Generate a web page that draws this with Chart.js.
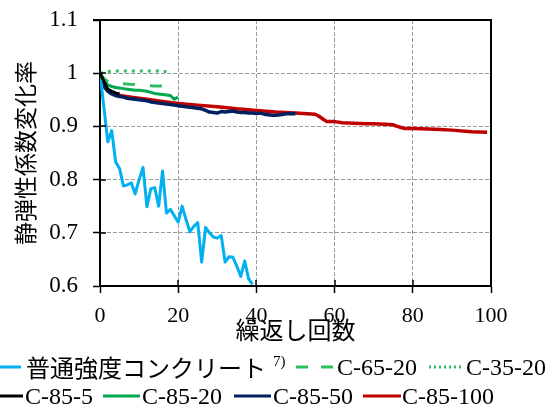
<!DOCTYPE html>
<html>
<head>
<meta charset="utf-8">
<script src="https://cdn.jsdelivr.net/npm/chart.js@4/dist/chart.umd.min.js"></script>
<style>
html, body { margin: 0; padding: 0; background: #fff; }
#wrap { width: 549px; height: 405px; }
canvas { display: block; }
</style>
</head>
<body>
<div id="wrap"><canvas id="chart" width="549" height="405"></canvas></div>
<script>
// series labels, in legend order
var seriesNames = ['普通強度コンクリート', 'C-65-20', 'C-35-20', 'C-85-5', 'C-85-20', 'C-85-50', 'C-85-100'];
var xTitle = '繰返し回数';
var yTitle = '静弾性係数変化率';

// axis ticks
var xTicks = [0, 20, 40, 60, 80, 100];
var yTicks = [0.6, 0.7, 0.8, 0.9, 1.0, 1.1];

// 普通強度コンクリート 7)
var normalCycles = [0, 2, 3, 4, 5, 6, 7, 8, 9, 10, 11, 12, 13, 14, 15, 16, 17, 18, 19, 20,
    21, 22, 23, 24, 25, 26, 27, 28, 29, 30, 31, 32, 33, 34, 35, 36, 37, 38, 39];
var normalRatio = [1.0, 0.871, 0.892, 0.833, 0.821, 0.788, 0.790, 0.794, 0.773, 0.800, 0.823, 0.749, 0.783, 0.785, 0.750, 0.816, 0.737, 0.744, 0.732, 0.720,
    0.750, 0.725, 0.702, 0.712, 0.719, 0.645, 0.710, 0.700, 0.692, 0.690, 0.695, 0.645, 0.655, 0.654, 0.637, 0.618, 0.647, 0.614, 0.603];

// C-65-20
var c6520Cycles = [0, 1, 2, 3, 4, 6, 8, 10, 12, 14, 16, 18];
var c6520Ratio = [1.0, 0.990, 0.984, 0.982, 0.981, 0.980, 0.979, 0.978, 0.977, 0.976, 0.976, 0.975];

// C-35-20
var c3520Cycles = [0, 1, 2, 3, 6, 9, 12, 15, 17];
var c3520Ratio = [1.0, 1.002, 1.003, 1.004, 1.004, 1.004, 1.004, 1.004, 1.003];

// C-85-5
var c855Cycles = [0, 1, 2, 3, 4, 5];
var c855Ratio = [1.0, 0.985, 0.970, 0.966, 0.963, 0.961];

// C-85-20
var c8520Cycles = [0, 1, 2, 3, 4, 5, 6, 7, 8, 9, 10, 11, 12, 13, 14, 15, 16, 17, 18, 19, 20];
var c8520Ratio = [1.0, 0.985, 0.978, 0.975, 0.973, 0.972, 0.971, 0.970, 0.969, 0.968, 0.968, 0.967, 0.966, 0.964, 0.962, 0.961, 0.960, 0.959, 0.958, 0.951, 0.955];

// C-85-50
var c8550Cycles = [0, 1, 2, 3, 4, 5, 6, 7, 8, 9, 10, 11, 12, 13, 14, 15, 16, 17, 18, 19, 20,
    21, 22, 23, 24, 25, 26, 27, 28, 29, 30, 31, 32, 33, 34, 35, 36, 37, 38, 39, 40,
    41, 42, 43, 44, 45, 46, 47, 48, 49, 50];
var c8550Ratio = [1.0, 0.975, 0.966, 0.961, 0.958, 0.956, 0.955, 0.953, 0.952, 0.951, 0.950, 0.949, 0.948, 0.946, 0.945, 0.944, 0.943, 0.942, 0.941, 0.940, 0.939,
    0.938, 0.937, 0.936, 0.935, 0.934, 0.933, 0.930, 0.927, 0.926, 0.925, 0.928, 0.927, 0.928, 0.929, 0.927, 0.926, 0.926, 0.925, 0.925, 0.924,
    0.925, 0.923, 0.922, 0.921, 0.921, 0.922, 0.923, 0.924, 0.924, 0.924];

// C-85-100
var c85100Cycles = [0, 1, 2, 3, 5, 8, 12, 16, 20, 25, 30, 35, 40, 45, 50, 53, 55, 56, 57, 58,
    60, 62, 65, 68, 70, 73, 75, 76, 77, 78, 80, 84, 87, 90, 95, 99];
var c85100Ratio = [1.0, 0.978, 0.968, 0.963, 0.958, 0.955, 0.951, 0.947, 0.943, 0.940, 0.937, 0.933, 0.930, 0.927, 0.925, 0.924, 0.923, 0.919, 0.914, 0.909,
    0.909, 0.907, 0.906, 0.905, 0.905, 0.904, 0.903, 0.900, 0.898, 0.896, 0.896, 0.895, 0.894, 0.893, 0.890, 0.889];

var serifFont = '"Liberation Serif", "Times New Roman", serif';
var cjkFont = '"Noto Sans CJK JP", sans-serif';

function toPoints(xs, ys) {
    return xs.map(function(x, i) { return { x: x, y: ys[i] }; });
}

// lower order is drawn on top
function series(i, xs, ys, color, dash, order, width) {
    return {
        label: seriesNames[i],
        data: toPoints(xs, ys),
        borderColor: color,
        backgroundColor: color,
        borderWidth: width || 3,
        borderDash: dash,
        borderJoinStyle: 'round',
        pointRadius: 0,
        tension: 0,
        fill: false,
        order: order
    };
}

var datasets = [
    series(0, normalCycles, normalRatio, '#00B0F0', [], 4),
    series(1, c6520Cycles, c6520Ratio, '#2DBE5C', [12, 15], 2),
    series(2, c3520Cycles, c3520Ratio, '#2DBE5C', [3, 5], 1),
    series(3, c855Cycles, c855Ratio, '#000000', [], 0),
    series(4, c8520Cycles, c8520Ratio, '#00A84F', [], 3),
    series(5, c8550Cycles, c8550Ratio, '#002060', [], 5, 3.5),
    series(6, c85100Cycles, c85100Ratio, '#C00000', [], 6, 3.5)
];

// legend sample dashes and slot positions
var legendSlots = [
    { x0: 0, x1: 21, tx: 26, y: 367 },
    { x0: 296, x1: 335, tx: 337, y: 367, dash: [12, 13] },
    { x0: 429, x1: 464, tx: 466, y: 367, dash: [2, 3] },
    { x0: 0, x1: 23, tx: 25, y: 396 },
    { x0: 103, x1: 140, tx: 142, y: 396 },
    { x0: 234, x1: 271, tx: 273, y: 396 },
    { x0: 363, x1: 401, tx: 402, y: 396 }
];

// top/right border, inner half of the ticks, then the two-row legend
var decorPlugin = {
    id: 'plotDecor',
    afterDraw: function(chart) {
        var ctx = chart.ctx;
        var area = chart.chartArea;
        var xs = chart.scales.x;
        var ys = chart.scales.y;

        ctx.save();
        ctx.setLineDash([]);
        ctx.globalAlpha = 1;
        ctx.fillStyle = '#000';
        xTicks.forEach(function(v) {
            var px = Math.round(xs.getPixelForValue(v));
            ctx.fillRect(px - 0.75, area.bottom - 6, 1.5, 6);
        });
        yTicks.forEach(function(v) {
            var py = Math.round(ys.getPixelForValue(v));
            ctx.fillRect(area.left, py - 0.75, 6, 1.5);
        });
        ctx.fillRect(area.left - 7, area.top - 1, area.right - area.left + 8, 2);
        ctx.fillRect(area.right - 1, area.top - 1, 2, area.bottom - area.top + 1);

        chart.data.datasets.forEach(function(ds, i) {
            var slot = legendSlots[i];
            ctx.strokeStyle = ds.borderColor;
            ctx.lineWidth = 3;
            ctx.setLineDash(slot.dash || []);
            ctx.beginPath();
            ctx.moveTo(slot.x0, slot.y);
            ctx.lineTo(slot.x1, slot.y);
            ctx.stroke();
            ctx.setLineDash([]);
            ctx.fillStyle = '#000';
            ctx.textAlign = 'left';
            if (i === 0) {
                ctx.font = '24px ' + cjkFont;
                ctx.textBaseline = 'middle';
                ctx.fillText(ds.label, slot.tx, slot.y + 1);
                ctx.textBaseline = 'alphabetic';
                ctx.font = '15px ' + serifFont;
                ctx.fillText('7)', 273, slot.y - 1);
            } else {
                ctx.textBaseline = 'alphabetic';
                ctx.font = '24px ' + serifFont;
                ctx.fillText(ds.label, slot.tx, slot.y + 8);
            }
        });
        ctx.restore();
    }
};

// keep label overflow from pushing the plot area inward
function noScalePadding(scale) {
    scale.paddingTop = 0;
    scale.paddingBottom = 0;
    scale.paddingLeft = 0;
    scale.paddingRight = 0;
}

Chart.defaults.font.family = serifFont;
Chart.defaults.color = '#000';

new Chart(document.getElementById('chart'), {
    type: 'line',
    data: { datasets: datasets },
    options: {
        responsive: false,
        animation: false,
        devicePixelRatio: 1,
        layout: { autoPadding: false, padding: { top: 20, right: 58, left: 0, bottom: 0 } },
        plugins: {
            legend: { display: false },
            tooltip: { enabled: false }
        },
        scales: {
            x: {
                type: 'linear',
                min: 0,
                max: 100,
                afterBuildTicks: function(scale) {
                    scale.ticks = xTicks.map(function(v) { return { value: v }; });
                },
                afterFit: function(scale) {
                    scale.height = 119;
                    noScalePadding(scale);
                },
                ticks: {
                    font: { size: 22 },
                    color: '#000',
                    padding: 10,
                    maxRotation: 0
                },
                grid: {
                    color: '#999999',
                    lineWidth: 1,
                    drawTicks: true,
                    tickLength: 7,
                    tickColor: '#000',
                    tickWidth: 1.5,
                    tickBorderDash: []
                },
                border: { display: true, color: '#000', width: 2, dash: [4, 2] },
                title: {
                    display: true,
                    text: xTitle,
                    color: '#000',
                    font: { family: cjkFont, size: 24 },
                    padding: { top: 0, bottom: 61 }
                }
            },
            y: {
                type: 'linear',
                min: 0.6,
                max: 1.1,
                afterBuildTicks: function(scale) {
                    scale.ticks = yTicks.map(function(v) { return { value: v }; });
                },
                afterFit: function(scale) {
                    scale.width = 100;
                    noScalePadding(scale);
                },
                ticks: {
                    font: { size: 23 },
                    color: '#000',
                    padding: 15,
                    callback: function(v) { return String(Math.round(v * 10) / 10); }
                },
                grid: {
                    color: function(ctx) {
                        return ctx.tick && ctx.tick.value > 1.05 ? 'rgba(0,0,0,0)' : '#999999';
                    },
                    lineWidth: 1,
                    drawTicks: true,
                    tickLength: 7,
                    tickColor: '#000',
                    tickWidth: 1.5,
                    tickBorderDash: []
                },
                border: { display: true, color: '#000', width: 2, dash: [4, 2] },
                title: {
                    display: true,
                    text: yTitle,
                    color: '#000',
                    font: { family: cjkFont, size: 23 },
                    padding: { top: 11, bottom: 0 }
                }
            }
        }
    },
    plugins: [decorPlugin]
});
</script>
</body>
</html>
